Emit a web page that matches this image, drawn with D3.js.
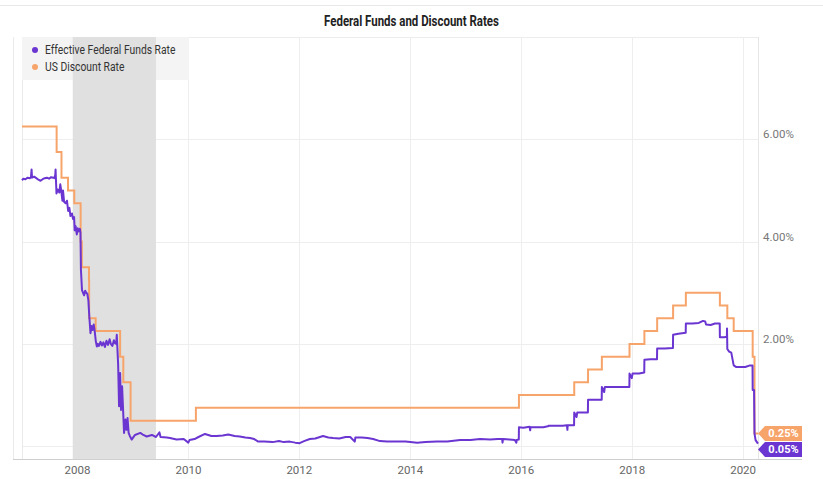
<!DOCTYPE html>
<html>
<head>
<meta charset="utf-8">
<script src="https://cdn.jsdelivr.net/npm/d3@7"></script>
<style>
  body { margin: 0; background: #fff; }
  text { font-family: Roboto, "Liberation Sans", sans-serif; }
</style>
</head>
<body>
<div id="chart"></div>
<script>
const width = 823, height = 479;

// Effective Federal Funds Rate (%)
const effrData = [
  ["2007-01-01",5.20],["2007-01-10",5.23],["2007-01-24",5.22],["2007-02-07",5.25],["2007-02-21",5.24],
  ["2007-03-01",5.26],["2007-03-05",5.41],["2007-03-08",5.25],["2007-03-22",5.27],["2007-04-05",5.24],
  ["2007-04-19",5.21],["2007-05-03",5.19],["2007-05-17",5.22],["2007-05-31",5.24],["2007-06-14",5.25],
  ["2007-06-28",5.23],["2007-07-12",5.26],["2007-07-26",5.25],["2007-08-02",5.24],["2007-08-08",5.30],
  ["2007-08-10",5.41],["2007-08-16",4.94],["2007-08-24",5.02],["2007-09-04",4.96],["2007-09-10",5.12],
  ["2007-09-17",4.98],["2007-09-24",4.80],["2007-09-28",5.00],["2007-10-05",4.78],["2007-10-15",4.75],
  ["2007-10-24",4.80],["2007-11-01",4.60],["2007-11-09",4.66],["2007-11-16",4.50],["2007-11-26",4.55],
  ["2007-12-03",4.44],["2007-12-10",4.48],["2007-12-14",4.22],["2007-12-20",4.30],["2007-12-28",4.14],
  ["2008-01-03",4.26],["2008-01-10",4.20],["2008-01-17",4.25],["2008-01-21",4.18],["2008-01-24",3.45],
  ["2008-01-31",3.05],["2008-02-07",3.00],["2008-02-14",2.95],["2008-02-21",3.04],["2008-02-28",3.00],
  ["2008-03-06",2.98],["2008-03-13",2.85],["2008-03-18",2.60],["2008-03-20",2.50],["2008-03-27",2.21],
  ["2008-04-03",2.35],["2008-04-10",2.27],["2008-04-17",2.38],["2008-04-24",2.24],["2008-05-01",2.05],
  ["2008-05-08",1.95],["2008-05-15",2.00],["2008-05-22",1.96],["2008-06-01",2.04],["2008-06-10",1.97],
  ["2008-06-20",2.03],["2008-06-30",1.94],["2008-07-10",2.06],["2008-07-20",1.98],["2008-07-31",2.09],
  ["2008-08-08",2.00],["2008-08-18",1.96],["2008-08-28",2.07],["2008-09-05",2.01],["2008-09-12",2.00],
  ["2008-09-16",2.18],["2008-09-25",1.60],["2008-10-01",0.78],["2008-10-08",1.43],["2008-10-14",0.71],
  ["2008-10-21",1.17],["2008-11-03",0.26],["2008-11-12",0.52],["2008-11-19",0.32],["2008-11-26",0.55],
  ["2008-12-03",0.26],["2008-12-11",0.20],["2008-12-23",0.13],["2009-01-14",0.22],["2009-02-18",0.26],
  ["2009-03-10",0.22],["2009-04-01",0.19],["2009-05-05",0.22],["2009-06-01",0.18],["2009-06-24",0.27],
  ["2009-07-01",0.18],["2009-08-12",0.17],["2009-09-01",0.16],["2009-10-15",0.13],["2009-12-01",0.14],
  ["2009-12-31",0.07],["2010-01-08",0.12],["2010-02-10",0.14],["2010-03-08",0.18],["2010-04-20",0.24],
  ["2010-06-01",0.20],["2010-07-05",0.20],["2010-08-15",0.21],["2010-09-20",0.23],["2010-11-01",0.20],
  ["2010-12-05",0.19],["2011-01-10",0.17],["2011-02-10",0.16],["2011-03-10",0.14],["2011-04-05",0.09],
  ["2011-05-15",0.09],["2011-07-10",0.08],["2011-08-20",0.10],["2011-09-20",0.08],["2011-10-30",0.09],
  ["2011-12-05",0.07],["2012-01-03",0.06],["2012-02-01",0.10],["2012-03-10",0.14],["2012-04-15",0.15],
  ["2012-06-05",0.20],["2012-07-10",0.17],["2012-08-10",0.16],["2012-09-20",0.15],["2012-11-01",0.18],
  ["2012-12-01",0.18],["2012-12-31",0.09],["2013-01-04",0.17],["2013-02-15",0.17],["2013-03-25",0.16],
  ["2013-05-01",0.14],["2013-06-15",0.10],["2013-08-01",0.09],["2013-10-05",0.09],["2013-12-01",0.09],
  ["2014-02-15",0.07],["2014-04-10",0.08],["2014-06-25",0.09],["2014-09-01",0.09],["2014-11-25",0.12],
  ["2015-02-01",0.12],["2015-04-05",0.14],["2015-06-10",0.13],["2015-08-01",0.14],["2015-08-28",0.14],
  ["2015-08-31",0.07],["2015-09-03",0.14],["2015-10-15",0.13],["2015-11-20",0.12],["2015-11-30",0.07],
  ["2015-12-02",0.12],["2015-12-16",0.13],["2015-12-17",0.37],["2016-01-15",0.36],["2016-02-25",0.38],
  ["2016-02-29",0.31],["2016-03-02",0.37],["2016-04-15",0.37],["2016-05-25",0.37],["2016-06-24",0.39],
  ["2016-07-01",0.40],["2016-08-15",0.40],["2016-09-30",0.40],["2016-10-28",0.41],["2016-10-31",0.32],
  ["2016-11-02",0.41],["2016-12-14",0.41],["2016-12-15",0.66],["2016-12-30",0.57],["2017-01-04",0.66],
  ["2017-02-15",0.66],["2017-03-15",0.66],["2017-03-16",0.91],["2017-04-28",0.91],["2017-06-14",0.91],
  ["2017-06-15",1.16],["2017-06-30",1.06],["2017-07-05",1.16],["2017-09-01",1.16],["2017-10-31",1.16],
  ["2017-12-13",1.16],["2017-12-14",1.42],["2017-12-29",1.33],["2018-01-03",1.42],["2018-02-15",1.42],
  ["2018-03-21",1.44],["2018-03-22",1.69],["2018-05-01",1.70],["2018-06-13",1.70],["2018-06-14",1.91],
  ["2018-08-01",1.91],["2018-09-26",1.92],["2018-09-27",2.18],["2018-11-01",2.20],["2018-12-19",2.22],
  ["2018-12-20",2.40],["2019-02-01",2.40],["2019-03-15",2.41],["2019-04-12",2.45],["2019-04-26",2.44],
  ["2019-05-02",2.38],["2019-06-01",2.37],["2019-06-30",2.40],["2019-07-31",2.40],["2019-08-01",2.13],
  ["2019-08-30",2.13],["2019-09-16",2.14],["2019-09-17",2.30],["2019-09-19",1.90],["2019-10-01",1.85],
  ["2019-10-15",1.83],["2019-10-31",1.58],["2019-11-15",1.55],["2019-12-31",1.55],["2020-01-15",1.55],
  ["2020-02-15",1.58],["2020-03-03",1.58],["2020-03-04",1.10],["2020-03-13",1.10],["2020-03-16",0.25],
  ["2020-03-23",0.12],["2020-04-01",0.08],["2020-04-08",0.05]
];

// US Discount Rate (%), step changes
const discountData = [
  ["2007-01-01",6.25],["2007-08-17",5.75],["2007-09-18",5.25],["2007-10-31",5.00],["2007-12-11",4.75],
  ["2008-01-22",4.00],["2008-01-30",3.50],["2008-03-17",3.25],["2008-03-18",2.50],["2008-04-30",2.25],
  ["2008-10-08",1.75],["2008-10-29",1.25],["2008-12-16",0.50],["2010-02-19",0.75],["2015-12-17",1.00],
  ["2016-12-15",1.25],["2017-03-16",1.50],["2017-06-15",1.75],["2017-12-14",2.00],["2018-03-22",2.25],
  ["2018-06-14",2.50],["2018-09-27",2.75],["2018-12-20",3.00],["2019-08-01",2.75],["2019-09-19",2.50],
  ["2019-10-31",2.25],["2020-03-04",1.75],["2020-03-16",0.25],["2020-04-08",0.25]
];

const recession = ["2007-12-01", "2009-06-01"];
const yTicks = [0, 2, 4, 6];
const seriesNames = ["Effective Federal Funds Rate", "US Discount Rate"];
const seriesColors = ["#6a35d1", "#f7a46b"];

const parse = d3.timeParse("%Y-%m-%d");
const effr = effrData.map(d => ({ date: parse(d[0]), value: d[1] }));
const discount = discountData.map(d => ({ date: parse(d[0]), value: d[1] }));

const plotLeft = 22, plotRight = 758, plotTop = 37, plotBottom = 459;

const svg = d3.select('#chart').append('svg')
    .attr('width', width)
    .attr('height', height);

svg.append('rect').attr('width', width).attr('height', height).attr('fill', '#fff');
svg.append('line').attr('x1', 0).attr('x2', width).attr('y1', 5.5).attr('y2', 5.5)
    .attr('stroke', '#e8e8e8');

const x = d3.scaleTime()
    .domain([parse("2007-01-01"), parse("2020-04-08")])
    .range([plotLeft, plotRight]);
const y = d3.scaleLinear().domain([-0.25, 8]).range([plotBottom, plotTop]);

// squeeze text to mimic the condensed face used in the original
function condense(sel, factor) {
  sel.each(function() {
    const w = this.getComputedTextLength();
    d3.select(this).attr('textLength', w * factor).attr('lengthAdjust', 'spacingAndGlyphs');
  });
}

// title
svg.append('text')
    .attr('x', width / 2).attr('y', 26)
    .attr('text-anchor', 'middle')
    .style('font-weight', 'bold')
    .style('font-size', '14.5px')
    .attr('fill', '#222')
    .text("Federal Funds and Discount Rates")
    .call(condense, 0.79);

// grid
const xTicks = d3.timeYear.every(2).range(parse("2008-01-01"), parse("2020-12-31"));
svg.append('g').selectAll('line').data(xTicks).join('line')
    .attr('x1', d => Math.round(x(d)) + 0.5).attr('x2', d => Math.round(x(d)) + 0.5)
    .attr('y1', plotTop).attr('y2', plotBottom)
    .attr('stroke', '#eeeeee');
svg.append('g').selectAll('line').data(yTicks).join('line')
    .attr('x1', plotLeft).attr('x2', plotRight)
    .attr('y1', d => Math.round(y(d)) + 0.5).attr('y2', d => Math.round(y(d)) + 0.5)
    .attr('stroke', '#eeeeee');

// frame
svg.append('line').attr('x1', 13.5).attr('x2', 13.5).attr('y1', plotTop).attr('y2', plotBottom).attr('stroke', '#eaeaea');
svg.append('line').attr('x1', plotLeft + 0.5).attr('x2', plotLeft + 0.5).attr('y1', plotTop).attr('y2', plotBottom).attr('stroke', '#eaeaea');
svg.append('line').attr('x1', plotRight + 0.5).attr('x2', plotRight + 0.5).attr('y1', plotTop).attr('y2', plotBottom).attr('stroke', '#e6e6e6');
svg.append('line').attr('x1', plotLeft).attr('x2', plotRight).attr('y1', plotTop + 0.5).attr('y2', plotTop + 0.5).attr('stroke', '#ececec');

// legend background
svg.append('rect').attr('x', plotLeft).attr('y', plotTop).attr('width', 167).attr('height', 43).attr('fill', '#f4f4f4');

// recession shading
svg.append('rect')
    .attr('x', x(parse(recession[0]))).attr('y', plotTop)
    .attr('width', x(parse(recession[1])) - x(parse(recession[0])))
    .attr('height', plotBottom - plotTop)
    .attr('fill', '#e0e0e0');

// lines
svg.append('path').datum(discount)
    .attr('fill', 'none').attr('stroke', seriesColors[1]).attr('stroke-width', 2)
    .attr('d', d3.line().curve(d3.curveStepAfter).x(d => x(d.date)).y(d => y(d.value)));
svg.append('path').datum(effr)
    .attr('fill', 'none').attr('stroke', seriesColors[0]).attr('stroke-width', 2)
    .attr('stroke-linejoin', 'round')
    .attr('d', d3.line().x(d => x(d.date)).y(d => y(d.value)));

// legend
const legend = svg.append('g').selectAll('g').data(seriesNames).join('g')
    .attr('transform', (d, i) => `translate(35,${50 + i * 17})`);
legend.append('circle').attr('r', 3).attr('fill', (d, i) => seriesColors[i]);
legend.append('text').attr('x', 10).attr('dy', '0.35em')
    .style('font-size', '12px').attr('fill', '#333')
    .text(d => d)
    .call(condense, 0.86);

// x axis
svg.append('line').attr('x1', 13).attr('x2', 802).attr('y1', plotBottom + 0.5).attr('y2', plotBottom + 0.5)
    .attr('stroke', '#cfcfcf');
svg.append('g').selectAll('text').data(xTicks).join('text')
    .attr('x', d => x(d)).attr('y', 474)
    .attr('text-anchor', 'middle')
    .style('font-size', '11.5px').attr('fill', '#666')
    .text(d3.timeFormat("%Y"));

// y labels on the right
svg.append('g').selectAll('text').data(yTicks.filter(d => d > 0)).join('text')
    .attr('x', 763).attr('y', d => y(d) - 1)
    .style('font-size', '11.5px').attr('fill', '#777')
    .text(d => d3.format(".2f")(d) + "%");

// end value tags
const lastE = effr[effr.length - 1], lastD = discount[discount.length - 1];
const tags = [
  { value: lastD.value, yc: y(lastD.value), color: seriesColors[1] },
  { value: lastE.value, yc: y(lastD.value) + 16, color: seriesColors[0] }
];
const tag = svg.append('g').selectAll('g').data(tags).join('g')
    .attr('transform', d => `translate(${plotRight},${d.yc})`);
tag.append('path')
    .attr('d', 'M0,0 L7,-7.5 L44,-7.5 L44,7.5 L7,7.5 Z')
    .attr('fill', d => d.color);
tag.append('text').attr('x', 25.5).attr('dy', '0.36em')
    .attr('text-anchor', 'middle')
    .style('font-size', '11px').style('font-weight', 'bold').attr('fill', '#fff')
    .text(d => d3.format(".2f")(d.value) + "%");
</script>
</body>
</html>
